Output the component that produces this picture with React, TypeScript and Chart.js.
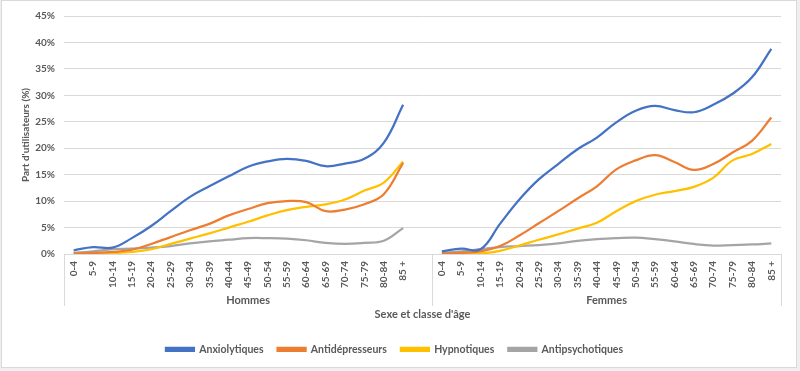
import React, { useEffect, useRef } from "react";
import { Chart, registerables } from "chart.js";

Chart.register(...registerables);

const ageClasses = ["0-4","5-9","10-14","15-19","20-24","25-29","30-34","35-39","40-44","45-49","50-54","55-59","60-64","65-69","70-74","75-79","80-84","85 +"];
const groups = ["Hommes", "Femmes"];
const seriesNames = ["Anxiolytiques", "Antidépresseurs", "Hypnotiques", "Antipsychotiques"];
const seriesColors = ["#4472C4", "#ED7D31", "#FFC000", "#A5A5A5"];

const anxioHommes = [0.7,1.3,1.2,3.0,5.3,8.1,10.8,12.8,14.7,16.5,17.5,18.0,17.6,16.6,17.1,18.0,21.0,28.2];
const antidepHommes = [0.1,0.2,0.4,0.8,1.9,3.2,4.5,5.7,7.3,8.5,9.6,10.0,9.8,8.1,8.4,9.4,11.3,17.2];
const hypnoHommes = [0.0,0.1,0.2,0.4,0.9,1.9,2.9,3.9,5.0,6.1,7.3,8.3,8.9,9.4,10.3,12.0,13.5,17.5];
const antipsyHommes = [0.2,0.5,0.9,1.0,1.2,1.5,2.0,2.4,2.7,3.0,3.0,2.9,2.6,2.1,1.9,2.1,2.5,4.9];

const anxioFemmes = [0.5,1.0,0.9,5.7,10.3,14.1,17.0,19.8,22.0,24.9,27.1,28.0,27.2,26.8,28.2,30.3,33.4,38.8];
const antidepFemmes = [0.1,0.2,0.5,1.5,3.5,5.8,8.1,10.5,12.8,16.0,17.7,18.7,17.4,15.9,17.0,19.2,21.4,25.8];
const hypnoFemmes = [0.0,0.0,0.1,0.6,1.6,2.7,3.7,4.8,5.9,8.1,10.0,11.2,11.9,12.7,14.4,17.7,18.9,20.8];
const antipsyFemmes = [0.2,0.5,0.9,1.3,1.5,1.7,2.0,2.5,2.8,3.0,3.1,2.8,2.4,1.9,1.6,1.7,1.8,2.0];

const yTickValues = [0,5,10,15,20,25,30,35,40,45];

const hommesSeries = [anxioHommes, antidepHommes, hypnoHommes, antipsyHommes];
const femmesSeries = [anxioFemmes, antidepFemmes, hypnoFemmes, antipsyFemmes];

// Hommes group has an empty trailing category (as in the source spreadsheet)
const labels = [...ageClasses, "", ...ageClasses];
const groupSizes = [ageClasses.length + 1, ageClasses.length];

const FONT = "Lato, 'Noto Sans', sans-serif";
const TEXT = "#595959";

const groupPlugin = {
  id: "groupLabels",
  afterDraw(chart: any) {
    const ctx = chart.ctx;
    const xs = chart.scales.x;
    const n = labels.length;
    const w = (xs.right - xs.left) / n;
    const bounds = [xs.left];
    let acc = 0;
    groupSizes.forEach((s) => { acc += s; bounds.push(xs.left + w * acc); });
    const y0 = chart.chartArea.bottom;
    ctx.save();
    ctx.strokeStyle = "#d9d9d9";
    ctx.lineWidth = 1;
    bounds.forEach((b) => {
      const px = Math.round(b) + 0.5;
      ctx.beginPath();
      ctx.moveTo(px, y0);
      ctx.lineTo(px, y0 + 52);
      ctx.stroke();
    });
    ctx.fillStyle = TEXT;
    ctx.font = `bold 11px ${FONT}`;
    ctx.textAlign = "center";
    ctx.textBaseline = "middle";
    groups.forEach((g, i) => {
      ctx.fillText(g, (bounds[i] + bounds[i + 1]) / 2, y0 + 46);
    });
    ctx.restore();
  },
};

export default function App() {
  const ref = useRef<HTMLCanvasElement>(null);
  useEffect(() => {
    document.body.style.margin = "0";
    const datasets = seriesNames.map((name, i) => ({
      label: name,
      data: [...hommesSeries[i], null, ...femmesSeries[i]],
      borderColor: seriesColors[i],
      backgroundColor: seriesColors[i],
      borderWidth: 2.25,
      pointRadius: 0,
      tension: 0.4,
      spanGaps: false,
      fill: false,
    }));
    const chart = new Chart(ref.current!, {
      type: "line",
      data: { labels, datasets },
      plugins: [groupPlugin],
      options: {
        animation: false,
        responsive: false,
        maintainAspectRatio: false,
        layout: { padding: { left: 8, right: 19, top: 16, bottom: 6.5 } },
        plugins: {
          legend: {
            position: "bottom",
            labels: {
              color: TEXT,
              font: { family: FONT, size: 10.5, weight: "bold" },
              boxWidth: 28,
              boxHeight: 3,
              padding: 14,
            },
          },
          tooltip: { enabled: false },
        },
        scales: {
          x: {
            offset: true,
            grid: { display: false, drawTicks: false },
            border: { display: false },
            ticks: {
              color: TEXT,
              font: { family: FONT, size: 10, weight: "bold" },
              maxRotation: 90,
              minRotation: 90,
              padding: 7,
              autoSkip: false,
            },
            title: {
              display: true,
              text: "Sexe et classe d'âge",
              color: TEXT,
              font: { family: FONT, size: 11, weight: "bold" },
              padding: { top: 0, bottom: 8.5 },
            },
            afterFit(scale: any) { scale.height = 76; },
          },
          y: {
            min: 0,
            max: 45,
            grid: { color: "#d9d9d9", drawTicks: false },
            border: { display: false },
            afterBuildTicks(scale: any) { scale.ticks = yTickValues.map((v) => ({ value: v })); },
            ticks: {
              color: TEXT,
              font: { family: FONT, size: 10, weight: "bold" },
              padding: 9,
              callback: (v: any) => `${v}%`,
            },
            title: {
              display: true,
              text: "Part d'utilisateurs (%)",
              color: TEXT,
              font: { family: FONT, size: 10, weight: "bold" },
              padding: { top: 12, bottom: 0 },
            },
            afterFit(scale: any) { scale.width = 56; },
          },
        },
      },
    });
    return () => chart.destroy();
  }, []);
  return (
    <div style={{ position: "relative", width: 800, height: 371, background: "#efefef" }}>
      <div style={{ position: "absolute", left: 1, top: 0, width: 794, height: 366, background: "#fff", border: "1px solid #d9d9d9" }} />
      <canvas ref={ref} width={800} height={371} style={{ position: "absolute", left: 0, top: 0, width: 800, height: 371 }} />
    </div>
  );
}
